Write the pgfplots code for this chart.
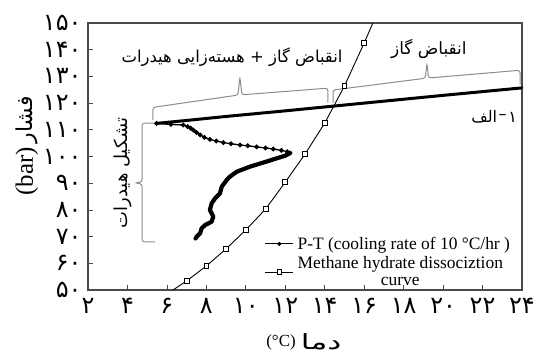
\documentclass[border=0pt]{standalone}
\usepackage{fontspec}
\setmainfont{Liberation Serif}
\newfontfamily\arabicfont[Script=Arabic]{DejaVu Sans}
\usepackage{pgfplots}
\pgfplotsset{compat=1.18}
\TeXXeTstate=1
\definecolor{axgray}{HTML}{4A4A4A}
\definecolor{brgray}{HTML}{8C8C8C}
\begin{document}
\begin{tikzpicture}
\useasboundingbox (-88bp,-66bp) rectangle (452bp,290bp);
\begin{axis}[
  scale only axis, width=434bp, height=267bp,
  at={(0,0)}, anchor=south west,
  xmin=2, xmax=24, ymin=50, ymax=150,
  xtick={2,4,...,24}, ytick={50,60,...,150},
  xticklabels={۲,۴,۶,۸,۱۰,۱۲,۱۴,۱۶,۱۸,۲۰,۲۲,۲۴},
  yticklabels={۵۰,۶۰,۷۰,۸۰,۹۰,۱۰۰,۱۱۰,۱۲۰,۱۳۰,۱۴۰,۱۵۰},
  ticklabel style={font=\arabicfont\fontsize{24}{24}\selectfont, text=black},
  xticklabel style={yshift=-5bp},
  yticklabel style={xshift=-3bp},
  tick pos=left, tick align=inside, major tick length=5bp,
  tick style={axgray, line width=0.8bp},
  axis line style={axgray, line width=1.5bp},
  clip=false,
  legend cell align=left,
  legend style={at={(axis cs:23.5,50.2)}, anchor=south east, draw=none, fill=none,
    font=\fontsize{17.5}{17}\selectfont, cells={align=center}, inner sep=0pt, row sep=2bp,
    /tikz/every odd column/.append style={column sep=2bp}},
  legend image code/.code={\draw[mark repeat=2,mark phase=2,#1] plot coordinates {(0bp,0bp)(14bp,0bp)(28bp,0bp)};},
]
\addlegendimage{black, line width=0.8bp, mark=*, mark size=1.6bp}
\addlegendentry{P-T (cooling rate of 10 \textdegree C/hr )}
\addlegendimage{black, line width=0.8bp, mark=square*, mark options={fill=white, line width=0.7bp}, mark size=2.3bp}
\addlegendentry{Methane hydrate dissociztion\\curve}

% methane hydrate dissociation curve
\addplot[forget plot, black, line width=0.9bp, mark=square*, mark options={fill=white, line width=0.8bp}, mark size=2.4bp,
  mark indices={2,3,4,5,6,7,8,9,10,11}] coordinates {
(6.31,50) (7,53.4) (8,59.0) (9,65.4) (10,72.5) (11,80.3) (12,90.4) (13,100.9) (14,112.5) (15,126.4) (16,142.5) (16.44,150)
};

% P-T: gas contraction line
\addplot[forget plot, black, line width=3bp, line cap=round] coordinates {
(24,125.7) (20,122.9) (16,120.0) (12,117.1) (9,115.0) (7,113.5) (5.48,112.4)
};
% P-T: upper branch of loop (dotted)
\addplot[forget plot, black, line width=1.3bp, mark=*, mark size=1.7bp] coordinates {
(5.48,112.4) (6.2,112.0) (6.83,111.8) (7.05,111.2) (7.2,110.6) (7.34,109.9) (7.5,109.0) (7.68,108.1) (7.9,107.2) (8.18,106.4) (8.5,105.8) (8.86,105.2) (9.25,104.8) (9.7,104.3) (10.1,104.0) (10.55,103.6) (11.0,103.2) (11.39,102.8) (11.8,102.3) (12.1,101.8) (12.24,101.3)
};
% P-T: lower branch (hydrate formation)
\addplot[forget plot, black, line width=4.2bp, line cap=round, line join=round] coordinates {
(12.24,101.3) (12.0,100.3) (11.56,99.3) (11.05,98.1) (10.21,96.2) (9.54,94.3) (9.2,92.5) (9.03,91.2) (8.78,88.7) (8.69,86.2) (8.44,84.3) (8.27,82.5) (8.18,80.0) (8.35,77.5) (8.27,75.6) (7.93,74.3) (7.76,73.1) (7.68,71.2) (7.51,70.0) (7.45,69.3)
};

% braces
\draw[brgray, line width=1bp, rounded corners=2.5bp]
  (axis cs:5.29,113.7) -- (axis cs:5.29,118.4) -- (axis cs:9.6,123.0) -- (axis cs:9.70,129.8)
  -- (axis cs:9.80,123.1) -- (axis cs:14.16,125.6) -- (axis cs:14.16,120.2);
\draw[brgray, line width=1bp, rounded corners=2.5bp]
  (axis cs:14.42,120.2) -- (axis cs:14.42,124.9) -- (axis cs:19.1,129.3) -- (axis cs:19.18,135.0)
  -- (axis cs:19.26,129.4) -- (axis cs:23.9,132.3) -- (axis cs:23.9,126.9);
\draw[brgray, line width=1bp, rounded corners=2.5bp]
  (axis cs:5.40,112.5) -- (axis cs:4.74,112.5) -- (axis cs:4.74,90.5) -- (axis cs:4.38,90.1)
  -- (axis cs:4.74,89.7) -- (axis cs:4.74,68.0) -- (axis cs:5.40,68.0);

% annotations
\node[font=\arabicfont\fontsize{16.5}{16.5}\selectfont] at (axis cs:9.30,137.2) {\beginR انقباض گاز + هسته‌زایی هیدرات\endR};
\node[font=\arabicfont\fontsize{17}{17}\selectfont] at (axis cs:19.28,140.2) {\beginR انقباض گاز\endR};
\node[font=\arabicfont\fontsize{16}{16}\selectfont, anchor=east, inner sep=0pt] at (axis cs:22.75,114.8) {\beginR الف\endR};
\node[font=\arabicfont\fontsize{16}{16}\selectfont, anchor=center, inner sep=0pt] at (axis cs:23.02,114.8) {–};
\node[font=\arabicfont\fontsize{16}{16}\selectfont, anchor=west, inner sep=0pt] at (axis cs:23.3,114.8) {۱};
\node[font=\arabicfont\fontsize{18}{18}\selectfont, rotate=90] at (axis cs:3.77,93.8) {\beginR تشکیل هیدرات\endR};

% axis labels
\node[font=\fontsize{17}{17}\selectfont, anchor=east, inner sep=0pt] at (rel axis cs:0.479,-0.195) {(\textdegree C)};
\node[font=\arabicfont\fontsize{21}{21}\selectfont, anchor=west, inner sep=0pt, xscale=1.5] at (rel axis cs:0.490,-0.195) {\beginR دما\endR};
\node[font=\fontsize{25}{25}\selectfont, anchor=east, inner sep=0pt, rotate=90] at (rel axis cs:-0.1406,0.5356) {(bar)};
\node[font=\arabicfont\fontsize{22}{22}\selectfont, anchor=west, inner sep=0pt, rotate=90] at (rel axis cs:-0.1406,0.548) {\beginR فشار\endR};
\end{axis}
\end{tikzpicture}
\end{document}
